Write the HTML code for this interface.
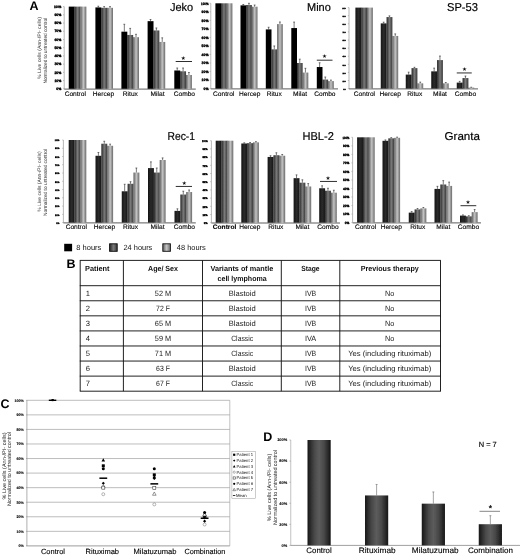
<!DOCTYPE html>
<html lang="en">
<head>
<meta charset="utf-8">
<title>Figure</title>
<style>
html,body{margin:0;padding:0;background:#fff;}
body{width:520px;height:557px;overflow:hidden;}
svg{display:block;font-family:"Liberation Sans", Arial, sans-serif;}
</style>
</head>
<body>
<svg width="520" height="557" viewBox="0 0 520 557" text-rendering="geometricPrecision">
<defs>
<filter id="soft" x="0" y="0" width="100%" height="100%" filterUnits="userSpaceOnUse"><feGaussianBlur stdDeviation="0.32"/></filter>
<linearGradient id="g0" x1="0" x2="1" y1="0" y2="0"><stop offset="0" stop-color="#000"/><stop offset="0.5" stop-color="#060606"/><stop offset="1" stop-color="#000"/></linearGradient>
<linearGradient id="g0b" x1="0" x2="1" y1="0" y2="0"><stop offset="0" stop-color="#141414"/><stop offset="0.5" stop-color="#2b2b2b"/><stop offset="1" stop-color="#161616"/></linearGradient>
<linearGradient id="g1" x1="0" x2="1" y1="0" y2="0"><stop offset="0" stop-color="#262626"/><stop offset="0.5" stop-color="#7a7a7a"/><stop offset="1" stop-color="#3a3a3a"/></linearGradient>
<linearGradient id="g2" x1="0" x2="1" y1="0" y2="0"><stop offset="0" stop-color="#5e5e5e"/><stop offset="0.5" stop-color="#c4c4c4"/><stop offset="1" stop-color="#6a6a6a"/></linearGradient>
<linearGradient id="gd" x1="0" x2="1" y1="0" y2="0"><stop offset="0" stop-color="#161616"/><stop offset="0.3" stop-color="#4a4a4a"/><stop offset="0.5" stop-color="#5c5c5c"/><stop offset="0.7" stop-color="#4a4a4a"/><stop offset="1" stop-color="#161616"/></linearGradient>
</defs>
<rect width="520" height="557" fill="#fff"/>
<g filter="url(#soft)">
<rect width="520" height="557" fill="#fff"/>

<text x="29.50" y="10.20" font-size="12.5" text-anchor="start" font-weight="bold">A</text>
<text x="66.50" y="268.30" font-size="12.5" text-anchor="start" font-weight="bold">B</text>
<text x="0.50" y="408.20" font-size="12.5" text-anchor="start" font-weight="bold">C</text>
<text x="263.30" y="441.40" font-size="12.5" text-anchor="start" font-weight="bold">D</text>
<text x="61.40" y="90.00" font-size="3.5" text-anchor="end" font-weight="bold" textLength="5.04" lengthAdjust="spacingAndGlyphs" stroke="#000" stroke-width="0.32">0%</text>
<line x1="63.00" y1="88.80" x2="64.20" y2="88.80" stroke="#888" stroke-width="0.5"/>
<text x="61.40" y="81.78" font-size="3.5" text-anchor="end" font-weight="bold" textLength="7.00" lengthAdjust="spacingAndGlyphs" stroke="#000" stroke-width="0.32">10%</text>
<line x1="63.00" y1="80.58" x2="64.20" y2="80.58" stroke="#888" stroke-width="0.5"/>
<text x="61.40" y="73.56" font-size="3.5" text-anchor="end" font-weight="bold" textLength="7.00" lengthAdjust="spacingAndGlyphs" stroke="#000" stroke-width="0.32">20%</text>
<line x1="63.00" y1="72.36" x2="64.20" y2="72.36" stroke="#888" stroke-width="0.5"/>
<text x="61.40" y="65.34" font-size="3.5" text-anchor="end" font-weight="bold" textLength="7.00" lengthAdjust="spacingAndGlyphs" stroke="#000" stroke-width="0.32">30%</text>
<line x1="63.00" y1="64.14" x2="64.20" y2="64.14" stroke="#888" stroke-width="0.5"/>
<text x="61.40" y="57.12" font-size="3.5" text-anchor="end" font-weight="bold" textLength="7.00" lengthAdjust="spacingAndGlyphs" stroke="#000" stroke-width="0.32">40%</text>
<line x1="63.00" y1="55.92" x2="64.20" y2="55.92" stroke="#888" stroke-width="0.5"/>
<text x="61.40" y="48.90" font-size="3.5" text-anchor="end" font-weight="bold" textLength="7.00" lengthAdjust="spacingAndGlyphs" stroke="#000" stroke-width="0.32">50%</text>
<line x1="63.00" y1="47.70" x2="64.20" y2="47.70" stroke="#888" stroke-width="0.5"/>
<text x="61.40" y="40.68" font-size="3.5" text-anchor="end" font-weight="bold" textLength="7.00" lengthAdjust="spacingAndGlyphs" stroke="#000" stroke-width="0.32">60%</text>
<line x1="63.00" y1="39.48" x2="64.20" y2="39.48" stroke="#888" stroke-width="0.5"/>
<text x="61.40" y="32.46" font-size="3.5" text-anchor="end" font-weight="bold" textLength="7.00" lengthAdjust="spacingAndGlyphs" stroke="#000" stroke-width="0.32">70%</text>
<line x1="63.00" y1="31.26" x2="64.20" y2="31.26" stroke="#888" stroke-width="0.5"/>
<text x="61.40" y="24.24" font-size="3.5" text-anchor="end" font-weight="bold" textLength="7.00" lengthAdjust="spacingAndGlyphs" stroke="#000" stroke-width="0.32">80%</text>
<line x1="63.00" y1="23.04" x2="64.20" y2="23.04" stroke="#888" stroke-width="0.5"/>
<text x="61.40" y="16.02" font-size="3.5" text-anchor="end" font-weight="bold" textLength="7.00" lengthAdjust="spacingAndGlyphs" stroke="#000" stroke-width="0.32">90%</text>
<line x1="63.00" y1="14.82" x2="64.20" y2="14.82" stroke="#888" stroke-width="0.5"/>
<text x="61.40" y="7.80" font-size="3.5" text-anchor="end" font-weight="bold" textLength="7.42" lengthAdjust="spacingAndGlyphs" stroke="#000" stroke-width="0.32">100%</text>
<line x1="63.00" y1="6.60" x2="64.20" y2="6.60" stroke="#888" stroke-width="0.5"/>
<line x1="64.20" y1="6.60" x2="64.20" y2="88.80" stroke="#999" stroke-width="0.7"/>
<line x1="64.20" y1="89.10" x2="195.80" y2="89.10" stroke="#333" stroke-width="0.8"/>
<rect x="68.75" y="6.60" width="5.90" height="82.20" fill="url(#g0)"/>
<rect x="74.60" y="6.60" width="5.90" height="82.20" fill="url(#g1)"/>
<rect x="80.45" y="6.60" width="5.90" height="82.20" fill="url(#g2)"/>
<text x="75.28" y="96.40" font-size="6.6" text-anchor="middle" stroke="#000" stroke-width="0.12">Control</text>
<rect x="95.40" y="7.42" width="5.90" height="81.38" fill="url(#g0)"/>
<path d="M98.33 7.42V6.19M97.42 6.19h1.8" stroke="#222" stroke-width="0.6" fill="none"/>
<rect x="101.25" y="7.83" width="5.90" height="80.97" fill="url(#g1)"/>
<path d="M104.17 7.83V6.60M103.27 6.60h1.8" stroke="#222" stroke-width="0.6" fill="none"/>
<rect x="107.10" y="7.83" width="5.90" height="80.97" fill="url(#g2)"/>
<path d="M110.03 7.83V6.60M109.12 6.60h1.8" stroke="#222" stroke-width="0.6" fill="none"/>
<text x="103.48" y="96.40" font-size="6.6" text-anchor="middle" stroke="#000" stroke-width="0.12">Hercep</text>
<rect x="121.40" y="31.67" width="5.90" height="57.13" fill="url(#g0)"/>
<path d="M124.33 31.67V24.27M123.42 24.27h1.8" stroke="#222" stroke-width="0.6" fill="none"/>
<rect x="127.25" y="34.96" width="5.90" height="53.84" fill="url(#g1)"/>
<path d="M130.18 34.96V28.38M129.28 28.38h1.8" stroke="#222" stroke-width="0.6" fill="none"/>
<rect x="133.10" y="37.18" width="5.90" height="51.62" fill="url(#g2)"/>
<path d="M136.03 37.18V34.30M135.12 34.30h1.8" stroke="#222" stroke-width="0.6" fill="none"/>
<text x="130.38" y="96.40" font-size="6.6" text-anchor="middle" stroke="#000" stroke-width="0.12">Ritux</text>
<rect x="147.60" y="21.15" width="5.90" height="67.65" fill="url(#g0)"/>
<path d="M150.53 21.15V19.51M149.62 19.51h1.8" stroke="#222" stroke-width="0.6" fill="none"/>
<rect x="153.45" y="30.44" width="5.90" height="58.36" fill="url(#g1)"/>
<path d="M156.38 30.44V27.97M155.47 27.97h1.8" stroke="#222" stroke-width="0.6" fill="none"/>
<rect x="159.30" y="41.95" width="5.90" height="46.85" fill="url(#g2)"/>
<path d="M162.22 41.95V37.84M161.32 37.84h1.8" stroke="#222" stroke-width="0.6" fill="none"/>
<text x="157.57" y="96.40" font-size="6.6" text-anchor="middle" stroke="#000" stroke-width="0.12">Milat</text>
<rect x="174.30" y="70.47" width="5.90" height="18.33" fill="url(#g0)"/>
<path d="M177.23 70.47V68.00M176.33 68.00h1.8" stroke="#222" stroke-width="0.6" fill="none"/>
<rect x="180.15" y="71.29" width="5.90" height="17.51" fill="url(#g1)"/>
<path d="M183.08 71.29V68.00M182.18 68.00h1.8" stroke="#222" stroke-width="0.6" fill="none"/>
<rect x="186.00" y="74.99" width="5.90" height="13.81" fill="url(#g2)"/>
<path d="M188.93 74.99V72.52M188.03 72.52h1.8" stroke="#222" stroke-width="0.6" fill="none"/>
<text x="184.38" y="96.40" font-size="6.6" text-anchor="middle" stroke="#000" stroke-width="0.12">Combo</text>
<text x="170.00" y="11.00" font-size="11.4" text-anchor="start" textLength="23.20" lengthAdjust="spacingAndGlyphs" stroke="#000" stroke-width="0.18">Jeko</text>
<line x1="175.70" y1="61.50" x2="192.00" y2="61.50" stroke="#0a0a0a" stroke-width="0.85"/>
<text x="183.30" y="59.60" font-size="5.6" text-anchor="middle" fill="#111" font-family="DejaVu Sans, sans-serif">★</text>
<text transform="translate(41.00 48.00) rotate(-90)" font-size="5.0" text-anchor="middle" fill="#333" textLength="62.00" lengthAdjust="spacingAndGlyphs">% Live cells (Ann-/PI- cells)</text>
<text transform="translate(47.40 50.70) rotate(-90)" font-size="5.0" text-anchor="middle" fill="#333" textLength="65.50" lengthAdjust="spacingAndGlyphs">Normalized to untreated control</text>
<text x="208.50" y="89.80" font-size="3.5" text-anchor="end" font-weight="bold" textLength="5.04" lengthAdjust="spacingAndGlyphs" stroke="#000" stroke-width="0.32">0%</text>
<line x1="209.60" y1="88.60" x2="210.80" y2="88.60" stroke="#888" stroke-width="0.5"/>
<text x="208.50" y="81.27" font-size="3.5" text-anchor="end" font-weight="bold" textLength="7.00" lengthAdjust="spacingAndGlyphs" stroke="#000" stroke-width="0.32">10%</text>
<line x1="209.60" y1="80.07" x2="210.80" y2="80.07" stroke="#888" stroke-width="0.5"/>
<text x="208.50" y="72.74" font-size="3.5" text-anchor="end" font-weight="bold" textLength="7.00" lengthAdjust="spacingAndGlyphs" stroke="#000" stroke-width="0.32">20%</text>
<line x1="209.60" y1="71.54" x2="210.80" y2="71.54" stroke="#888" stroke-width="0.5"/>
<text x="208.50" y="64.21" font-size="3.5" text-anchor="end" font-weight="bold" textLength="7.00" lengthAdjust="spacingAndGlyphs" stroke="#000" stroke-width="0.32">30%</text>
<line x1="209.60" y1="63.01" x2="210.80" y2="63.01" stroke="#888" stroke-width="0.5"/>
<text x="208.50" y="55.68" font-size="3.5" text-anchor="end" font-weight="bold" textLength="7.00" lengthAdjust="spacingAndGlyphs" stroke="#000" stroke-width="0.32">40%</text>
<line x1="209.60" y1="54.48" x2="210.80" y2="54.48" stroke="#888" stroke-width="0.5"/>
<text x="208.50" y="47.15" font-size="3.5" text-anchor="end" font-weight="bold" textLength="7.00" lengthAdjust="spacingAndGlyphs" stroke="#000" stroke-width="0.32">50%</text>
<line x1="209.60" y1="45.95" x2="210.80" y2="45.95" stroke="#888" stroke-width="0.5"/>
<text x="208.50" y="38.62" font-size="3.5" text-anchor="end" font-weight="bold" textLength="7.00" lengthAdjust="spacingAndGlyphs" stroke="#000" stroke-width="0.32">60%</text>
<line x1="209.60" y1="37.42" x2="210.80" y2="37.42" stroke="#888" stroke-width="0.5"/>
<text x="208.50" y="30.09" font-size="3.5" text-anchor="end" font-weight="bold" textLength="7.00" lengthAdjust="spacingAndGlyphs" stroke="#000" stroke-width="0.32">70%</text>
<line x1="209.60" y1="28.89" x2="210.80" y2="28.89" stroke="#888" stroke-width="0.5"/>
<text x="208.50" y="21.56" font-size="3.5" text-anchor="end" font-weight="bold" textLength="7.00" lengthAdjust="spacingAndGlyphs" stroke="#000" stroke-width="0.32">80%</text>
<line x1="209.60" y1="20.36" x2="210.80" y2="20.36" stroke="#888" stroke-width="0.5"/>
<text x="208.50" y="13.03" font-size="3.5" text-anchor="end" font-weight="bold" textLength="7.00" lengthAdjust="spacingAndGlyphs" stroke="#000" stroke-width="0.32">90%</text>
<line x1="209.60" y1="11.83" x2="210.80" y2="11.83" stroke="#888" stroke-width="0.5"/>
<text x="208.50" y="4.50" font-size="3.5" text-anchor="end" font-weight="bold" textLength="7.42" lengthAdjust="spacingAndGlyphs" stroke="#000" stroke-width="0.32">100%</text>
<line x1="209.60" y1="3.30" x2="210.80" y2="3.30" stroke="#888" stroke-width="0.5"/>
<line x1="210.80" y1="3.30" x2="210.80" y2="88.60" stroke="#999" stroke-width="0.7"/>
<line x1="210.80" y1="88.90" x2="338.00" y2="88.90" stroke="#333" stroke-width="0.8"/>
<rect x="215.40" y="3.30" width="5.70" height="85.30" fill="url(#g0)"/>
<rect x="221.05" y="3.30" width="5.70" height="85.30" fill="url(#g1)"/>
<rect x="226.70" y="3.30" width="5.70" height="85.30" fill="url(#g2)"/>
<text x="223.72" y="96.20" font-size="6.6" text-anchor="middle" stroke="#000" stroke-width="0.12">Control</text>
<rect x="240.50" y="5.35" width="5.70" height="83.25" fill="url(#g0)"/>
<path d="M243.32 5.35V4.49M242.42 4.49h1.8" stroke="#222" stroke-width="0.6" fill="none"/>
<rect x="246.15" y="5.01" width="5.70" height="83.59" fill="url(#g1)"/>
<path d="M248.97 5.01V3.30M248.07 3.30h1.8" stroke="#222" stroke-width="0.6" fill="none"/>
<rect x="251.80" y="6.71" width="5.70" height="81.89" fill="url(#g2)"/>
<path d="M254.62 6.71V5.01M253.72 5.01h1.8" stroke="#222" stroke-width="0.6" fill="none"/>
<text x="249.72" y="96.20" font-size="6.6" text-anchor="middle" stroke="#000" stroke-width="0.12">Hercep</text>
<rect x="265.80" y="29.40" width="5.70" height="59.20" fill="url(#g0)"/>
<path d="M268.62 29.40V27.27M267.73 27.27h1.8" stroke="#222" stroke-width="0.6" fill="none"/>
<rect x="271.45" y="49.36" width="5.70" height="39.24" fill="url(#g1)"/>
<path d="M274.27 49.36V45.95M273.38 45.95h1.8" stroke="#222" stroke-width="0.6" fill="none"/>
<rect x="277.10" y="24.11" width="5.70" height="64.49" fill="url(#g2)"/>
<path d="M279.93 24.11V21.98M279.03 21.98h1.8" stroke="#222" stroke-width="0.6" fill="none"/>
<text x="274.28" y="96.20" font-size="6.6" text-anchor="middle" stroke="#000" stroke-width="0.12">Ritux</text>
<rect x="291.30" y="28.04" width="5.70" height="60.56" fill="url(#g0)"/>
<path d="M294.12 28.04V22.07M293.23 22.07h1.8" stroke="#222" stroke-width="0.6" fill="none"/>
<rect x="296.95" y="63.01" width="5.70" height="25.59" fill="url(#g1)"/>
<path d="M299.77 63.01V59.17M298.88 59.17h1.8" stroke="#222" stroke-width="0.6" fill="none"/>
<rect x="302.60" y="72.56" width="5.70" height="16.04" fill="url(#g2)"/>
<path d="M305.43 72.56V68.30M304.53 68.30h1.8" stroke="#222" stroke-width="0.6" fill="none"/>
<text x="300.08" y="96.20" font-size="6.6" text-anchor="middle" stroke="#000" stroke-width="0.12">Milat</text>
<rect x="316.80" y="67.02" width="5.70" height="21.58" fill="url(#g0)"/>
<path d="M319.62 67.02V62.75M318.73 62.75h1.8" stroke="#222" stroke-width="0.6" fill="none"/>
<rect x="322.45" y="79.56" width="5.70" height="9.04" fill="url(#g1)"/>
<path d="M325.27 79.56V77.00M324.38 77.00h1.8" stroke="#222" stroke-width="0.6" fill="none"/>
<rect x="328.10" y="81.09" width="5.70" height="7.51" fill="url(#g2)"/>
<path d="M330.93 81.09V80.07M330.03 80.07h1.8" stroke="#222" stroke-width="0.6" fill="none"/>
<text x="324.88" y="96.20" font-size="6.6" text-anchor="middle" stroke="#000" stroke-width="0.12">Combo</text>
<text x="307.00" y="11.00" font-size="11.4" text-anchor="start" textLength="23.80" lengthAdjust="spacingAndGlyphs" stroke="#000" stroke-width="0.18">Mino</text>
<line x1="316.80" y1="60.20" x2="332.50" y2="60.20" stroke="#0a0a0a" stroke-width="0.85"/>
<text x="324.50" y="58.10" font-size="5.6" text-anchor="middle" fill="#111" font-family="DejaVu Sans, sans-serif">★</text>
<text x="345.80" y="89.80" font-size="1.7" text-anchor="end" font-weight="bold" textLength="2.45" lengthAdjust="spacingAndGlyphs" stroke="#000" stroke-width="0.32">0%</text>
<line x1="347.80" y1="88.60" x2="349.00" y2="88.60" stroke="#888" stroke-width="0.5"/>
<text x="345.80" y="81.70" font-size="1.7" text-anchor="end" font-weight="bold" textLength="3.40" lengthAdjust="spacingAndGlyphs" stroke="#000" stroke-width="0.32">10%</text>
<line x1="347.80" y1="80.50" x2="349.00" y2="80.50" stroke="#888" stroke-width="0.5"/>
<text x="345.80" y="73.60" font-size="1.7" text-anchor="end" font-weight="bold" textLength="3.40" lengthAdjust="spacingAndGlyphs" stroke="#000" stroke-width="0.32">20%</text>
<line x1="347.80" y1="72.40" x2="349.00" y2="72.40" stroke="#888" stroke-width="0.5"/>
<text x="345.80" y="65.50" font-size="1.7" text-anchor="end" font-weight="bold" textLength="3.40" lengthAdjust="spacingAndGlyphs" stroke="#000" stroke-width="0.32">30%</text>
<line x1="347.80" y1="64.30" x2="349.00" y2="64.30" stroke="#888" stroke-width="0.5"/>
<text x="345.80" y="57.40" font-size="1.7" text-anchor="end" font-weight="bold" textLength="3.40" lengthAdjust="spacingAndGlyphs" stroke="#000" stroke-width="0.32">40%</text>
<line x1="347.80" y1="56.20" x2="349.00" y2="56.20" stroke="#888" stroke-width="0.5"/>
<text x="345.80" y="49.30" font-size="1.7" text-anchor="end" font-weight="bold" textLength="3.40" lengthAdjust="spacingAndGlyphs" stroke="#000" stroke-width="0.32">50%</text>
<line x1="347.80" y1="48.10" x2="349.00" y2="48.10" stroke="#888" stroke-width="0.5"/>
<text x="345.80" y="41.20" font-size="1.7" text-anchor="end" font-weight="bold" textLength="3.40" lengthAdjust="spacingAndGlyphs" stroke="#000" stroke-width="0.32">60%</text>
<line x1="347.80" y1="40.00" x2="349.00" y2="40.00" stroke="#888" stroke-width="0.5"/>
<text x="345.80" y="33.10" font-size="1.7" text-anchor="end" font-weight="bold" textLength="3.40" lengthAdjust="spacingAndGlyphs" stroke="#000" stroke-width="0.32">70%</text>
<line x1="347.80" y1="31.90" x2="349.00" y2="31.90" stroke="#888" stroke-width="0.5"/>
<text x="345.80" y="25.00" font-size="1.7" text-anchor="end" font-weight="bold" textLength="3.40" lengthAdjust="spacingAndGlyphs" stroke="#000" stroke-width="0.32">80%</text>
<line x1="347.80" y1="23.80" x2="349.00" y2="23.80" stroke="#888" stroke-width="0.5"/>
<text x="345.80" y="16.90" font-size="1.7" text-anchor="end" font-weight="bold" textLength="3.40" lengthAdjust="spacingAndGlyphs" stroke="#000" stroke-width="0.32">90%</text>
<line x1="347.80" y1="15.70" x2="349.00" y2="15.70" stroke="#888" stroke-width="0.5"/>
<text x="345.80" y="8.80" font-size="1.7" text-anchor="end" font-weight="bold" textLength="3.60" lengthAdjust="spacingAndGlyphs" stroke="#000" stroke-width="0.32">100%</text>
<line x1="347.80" y1="7.60" x2="349.00" y2="7.60" stroke="#888" stroke-width="0.5"/>
<line x1="349.00" y1="7.60" x2="349.00" y2="88.60" stroke="#999" stroke-width="0.7"/>
<line x1="349.00" y1="88.90" x2="478.00" y2="88.90" stroke="#333" stroke-width="0.8"/>
<rect x="355.40" y="7.60" width="5.85" height="81.00" fill="url(#g0b)"/>
<rect x="361.20" y="7.60" width="5.85" height="81.00" fill="url(#g1)"/>
<rect x="367.00" y="7.60" width="5.85" height="81.00" fill="url(#g2)"/>
<text x="364.45" y="96.20" font-size="6.6" text-anchor="middle" stroke="#000" stroke-width="0.12">Control</text>
<rect x="380.75" y="23.39" width="5.85" height="65.20" fill="url(#g0b)"/>
<path d="M383.65 23.39V22.18M382.75 22.18h1.8" stroke="#222" stroke-width="0.6" fill="none"/>
<rect x="386.55" y="17.08" width="5.85" height="71.52" fill="url(#g1)"/>
<path d="M389.45 17.08V15.86M388.55 15.86h1.8" stroke="#222" stroke-width="0.6" fill="none"/>
<rect x="392.35" y="35.95" width="5.85" height="52.65" fill="url(#g2)"/>
<path d="M395.25 35.95V33.92M394.35 33.92h1.8" stroke="#222" stroke-width="0.6" fill="none"/>
<text x="390.25" y="96.20" font-size="6.6" text-anchor="middle" stroke="#000" stroke-width="0.12">Hercep</text>
<rect x="405.75" y="74.59" width="5.85" height="14.01" fill="url(#g0b)"/>
<path d="M408.65 74.59V72.16M407.75 72.16h1.8" stroke="#222" stroke-width="0.6" fill="none"/>
<rect x="411.55" y="68.11" width="5.85" height="20.49" fill="url(#g1)"/>
<path d="M414.45 68.11V67.30M413.55 67.30h1.8" stroke="#222" stroke-width="0.6" fill="none"/>
<rect x="417.35" y="83.33" width="5.85" height="5.26" fill="url(#g2)"/>
<path d="M420.25 83.33V82.12M419.35 82.12h1.8" stroke="#222" stroke-width="0.6" fill="none"/>
<text x="414.75" y="96.20" font-size="6.6" text-anchor="middle" stroke="#000" stroke-width="0.12">Ritux</text>
<rect x="431.25" y="71.35" width="5.85" height="17.25" fill="url(#g0b)"/>
<path d="M434.15 71.35V68.11M433.25 68.11h1.8" stroke="#222" stroke-width="0.6" fill="none"/>
<rect x="437.05" y="60.09" width="5.85" height="28.51" fill="url(#g1)"/>
<path d="M439.95 60.09V56.04M439.05 56.04h1.8" stroke="#222" stroke-width="0.6" fill="none"/>
<rect x="442.85" y="83.33" width="5.85" height="5.26" fill="url(#g2)"/>
<path d="M445.75 83.33V82.52M444.85 82.52h1.8" stroke="#222" stroke-width="0.6" fill="none"/>
<text x="439.95" y="96.20" font-size="6.6" text-anchor="middle" stroke="#000" stroke-width="0.12">Milat</text>
<rect x="456.75" y="82.61" width="5.85" height="5.99" fill="url(#g0b)"/>
<path d="M459.65 82.61V81.39M458.75 81.39h1.8" stroke="#222" stroke-width="0.6" fill="none"/>
<rect x="462.55" y="78.07" width="5.85" height="10.53" fill="url(#g1)"/>
<path d="M465.45 78.07V76.04M464.55 76.04h1.8" stroke="#222" stroke-width="0.6" fill="none"/>
<rect x="468.35" y="87.63" width="5.85" height="0.97" fill="url(#g2)"/>
<path d="M471.25 87.63V87.22M470.35 87.22h1.8" stroke="#222" stroke-width="0.6" fill="none"/>
<text x="465.45" y="96.20" font-size="6.6" text-anchor="middle" stroke="#000" stroke-width="0.12">Combo</text>
<text x="447.00" y="11.00" font-size="11.4" text-anchor="start" textLength="31.00" lengthAdjust="spacingAndGlyphs" stroke="#000" stroke-width="0.18">SP-53</text>
<line x1="456.75" y1="72.95" x2="471.75" y2="72.95" stroke="#0a0a0a" stroke-width="0.85"/>
<text x="464.50" y="70.60" font-size="5.6" text-anchor="middle" fill="#111" font-family="DejaVu Sans, sans-serif">★</text>
<text x="59.40" y="223.80" font-size="2.15" text-anchor="end" font-weight="bold" textLength="3.10" lengthAdjust="spacingAndGlyphs" stroke="#000" stroke-width="0.32">0%</text>
<line x1="62.20" y1="222.60" x2="63.40" y2="222.60" stroke="#888" stroke-width="0.5"/>
<text x="59.40" y="215.54" font-size="2.15" text-anchor="end" font-weight="bold" textLength="4.30" lengthAdjust="spacingAndGlyphs" stroke="#000" stroke-width="0.32">10%</text>
<line x1="62.20" y1="214.34" x2="63.40" y2="214.34" stroke="#888" stroke-width="0.5"/>
<text x="59.40" y="207.28" font-size="2.15" text-anchor="end" font-weight="bold" textLength="4.30" lengthAdjust="spacingAndGlyphs" stroke="#000" stroke-width="0.32">20%</text>
<line x1="62.20" y1="206.08" x2="63.40" y2="206.08" stroke="#888" stroke-width="0.5"/>
<text x="59.40" y="199.02" font-size="2.15" text-anchor="end" font-weight="bold" textLength="4.30" lengthAdjust="spacingAndGlyphs" stroke="#000" stroke-width="0.32">30%</text>
<line x1="62.20" y1="197.82" x2="63.40" y2="197.82" stroke="#888" stroke-width="0.5"/>
<text x="59.40" y="190.76" font-size="2.15" text-anchor="end" font-weight="bold" textLength="4.30" lengthAdjust="spacingAndGlyphs" stroke="#000" stroke-width="0.32">40%</text>
<line x1="62.20" y1="189.56" x2="63.40" y2="189.56" stroke="#888" stroke-width="0.5"/>
<text x="59.40" y="182.50" font-size="2.15" text-anchor="end" font-weight="bold" textLength="4.30" lengthAdjust="spacingAndGlyphs" stroke="#000" stroke-width="0.32">50%</text>
<line x1="62.20" y1="181.30" x2="63.40" y2="181.30" stroke="#888" stroke-width="0.5"/>
<text x="59.40" y="174.24" font-size="2.15" text-anchor="end" font-weight="bold" textLength="4.30" lengthAdjust="spacingAndGlyphs" stroke="#000" stroke-width="0.32">60%</text>
<line x1="62.20" y1="173.04" x2="63.40" y2="173.04" stroke="#888" stroke-width="0.5"/>
<text x="59.40" y="165.98" font-size="2.15" text-anchor="end" font-weight="bold" textLength="4.30" lengthAdjust="spacingAndGlyphs" stroke="#000" stroke-width="0.32">70%</text>
<line x1="62.20" y1="164.78" x2="63.40" y2="164.78" stroke="#888" stroke-width="0.5"/>
<text x="59.40" y="157.72" font-size="2.15" text-anchor="end" font-weight="bold" textLength="4.30" lengthAdjust="spacingAndGlyphs" stroke="#000" stroke-width="0.32">80%</text>
<line x1="62.20" y1="156.52" x2="63.40" y2="156.52" stroke="#888" stroke-width="0.5"/>
<text x="59.40" y="149.46" font-size="2.15" text-anchor="end" font-weight="bold" textLength="4.30" lengthAdjust="spacingAndGlyphs" stroke="#000" stroke-width="0.32">90%</text>
<line x1="62.20" y1="148.26" x2="63.40" y2="148.26" stroke="#888" stroke-width="0.5"/>
<text x="59.40" y="141.20" font-size="2.15" text-anchor="end" font-weight="bold" textLength="4.56" lengthAdjust="spacingAndGlyphs" stroke="#000" stroke-width="0.32">100%</text>
<line x1="62.20" y1="140.00" x2="63.40" y2="140.00" stroke="#888" stroke-width="0.5"/>
<line x1="63.40" y1="140.00" x2="63.40" y2="222.60" stroke="#999" stroke-width="0.7"/>
<line x1="63.40" y1="222.90" x2="195.80" y2="222.90" stroke="#333" stroke-width="0.8"/>
<rect x="68.70" y="140.00" width="5.90" height="82.60" fill="url(#g0b)"/>
<rect x="74.55" y="140.00" width="5.90" height="82.60" fill="url(#g1)"/>
<rect x="80.40" y="140.00" width="5.90" height="82.60" fill="url(#g2)"/>
<text x="76.27" y="229.00" font-size="6.6" text-anchor="middle" stroke="#000" stroke-width="0.12">Control</text>
<rect x="95.50" y="155.78" width="5.90" height="66.82" fill="url(#g0b)"/>
<path d="M98.42 155.78V152.47M97.52 152.47h1.8" stroke="#222" stroke-width="0.6" fill="none"/>
<rect x="101.35" y="143.72" width="5.90" height="78.88" fill="url(#g1)"/>
<path d="M104.27 143.72V141.24M103.37 141.24h1.8" stroke="#222" stroke-width="0.6" fill="none"/>
<rect x="107.20" y="145.78" width="5.90" height="76.82" fill="url(#g2)"/>
<path d="M110.12 145.78V144.13M109.22 144.13h1.8" stroke="#222" stroke-width="0.6" fill="none"/>
<text x="104.48" y="229.00" font-size="6.6" text-anchor="middle" stroke="#000" stroke-width="0.12">Hercep</text>
<rect x="121.75" y="191.29" width="5.90" height="31.31" fill="url(#g0b)"/>
<path d="M124.67 191.29V184.27M123.77 184.27h1.8" stroke="#222" stroke-width="0.6" fill="none"/>
<rect x="127.60" y="183.78" width="5.90" height="38.82" fill="url(#g1)"/>
<path d="M130.53 183.78V181.71M129.62 181.71h1.8" stroke="#222" stroke-width="0.6" fill="none"/>
<rect x="133.45" y="172.54" width="5.90" height="50.06" fill="url(#g2)"/>
<path d="M136.38 172.54V168.00M135.47 168.00h1.8" stroke="#222" stroke-width="0.6" fill="none"/>
<text x="130.53" y="229.00" font-size="6.6" text-anchor="middle" stroke="#000" stroke-width="0.12">Ritux</text>
<rect x="148.00" y="168.08" width="5.90" height="54.52" fill="url(#g0b)"/>
<path d="M150.93 168.08V161.89M150.03 161.89h1.8" stroke="#222" stroke-width="0.6" fill="none"/>
<rect x="153.85" y="172.54" width="5.90" height="50.06" fill="url(#g1)"/>
<path d="M156.78 172.54V168.00M155.88 168.00h1.8" stroke="#222" stroke-width="0.6" fill="none"/>
<rect x="159.70" y="159.99" width="5.90" height="62.61" fill="url(#g2)"/>
<path d="M162.62 159.99V157.92M161.72 157.92h1.8" stroke="#222" stroke-width="0.6" fill="none"/>
<text x="157.58" y="229.00" font-size="6.6" text-anchor="middle" stroke="#000" stroke-width="0.12">Milat</text>
<rect x="174.50" y="210.87" width="5.90" height="11.73" fill="url(#g0b)"/>
<path d="M177.43 210.87V208.81M176.53 208.81h1.8" stroke="#222" stroke-width="0.6" fill="none"/>
<rect x="180.35" y="194.52" width="5.90" height="28.08" fill="url(#g1)"/>
<path d="M183.28 194.52V191.21M182.38 191.21h1.8" stroke="#222" stroke-width="0.6" fill="none"/>
<rect x="186.20" y="192.04" width="5.90" height="30.56" fill="url(#g2)"/>
<path d="M189.12 192.04V189.97M188.22 189.97h1.8" stroke="#222" stroke-width="0.6" fill="none"/>
<text x="184.38" y="229.00" font-size="6.6" text-anchor="middle" stroke="#000" stroke-width="0.12">Combo</text>
<text x="167.50" y="139.80" font-size="11.4" text-anchor="start" textLength="27.50" lengthAdjust="spacingAndGlyphs" stroke="#000" stroke-width="0.18">Rec-1</text>
<line x1="175.75" y1="186.45" x2="192.00" y2="186.45" stroke="#0a0a0a" stroke-width="0.85"/>
<text x="184.25" y="184.60" font-size="5.6" text-anchor="middle" fill="#111" font-family="DejaVu Sans, sans-serif">★</text>
<text transform="translate(41.00 181.60) rotate(-90)" font-size="5.0" text-anchor="middle" fill="#333" textLength="60.50" lengthAdjust="spacingAndGlyphs">% Live cells (Ann-/PI- cells)</text>
<text transform="translate(47.40 182.50) rotate(-90)" font-size="5.0" text-anchor="middle" fill="#333" textLength="67.00" lengthAdjust="spacingAndGlyphs">Normalized to untreated control</text>
<text x="207.60" y="223.90" font-size="2.6" text-anchor="end" font-weight="bold" textLength="3.74" lengthAdjust="spacingAndGlyphs" stroke="#000" stroke-width="0.32">0%</text>
<line x1="210.20" y1="222.70" x2="211.40" y2="222.70" stroke="#888" stroke-width="0.5"/>
<text x="207.60" y="215.70" font-size="2.6" text-anchor="end" font-weight="bold" textLength="5.20" lengthAdjust="spacingAndGlyphs" stroke="#000" stroke-width="0.32">10%</text>
<line x1="210.20" y1="214.50" x2="211.40" y2="214.50" stroke="#888" stroke-width="0.5"/>
<text x="207.60" y="207.50" font-size="2.6" text-anchor="end" font-weight="bold" textLength="5.20" lengthAdjust="spacingAndGlyphs" stroke="#000" stroke-width="0.32">20%</text>
<line x1="210.20" y1="206.30" x2="211.40" y2="206.30" stroke="#888" stroke-width="0.5"/>
<text x="207.60" y="199.30" font-size="2.6" text-anchor="end" font-weight="bold" textLength="5.20" lengthAdjust="spacingAndGlyphs" stroke="#000" stroke-width="0.32">30%</text>
<line x1="210.20" y1="198.10" x2="211.40" y2="198.10" stroke="#888" stroke-width="0.5"/>
<text x="207.60" y="191.10" font-size="2.6" text-anchor="end" font-weight="bold" textLength="5.20" lengthAdjust="spacingAndGlyphs" stroke="#000" stroke-width="0.32">40%</text>
<line x1="210.20" y1="189.90" x2="211.40" y2="189.90" stroke="#888" stroke-width="0.5"/>
<text x="207.60" y="182.90" font-size="2.6" text-anchor="end" font-weight="bold" textLength="5.20" lengthAdjust="spacingAndGlyphs" stroke="#000" stroke-width="0.32">50%</text>
<line x1="210.20" y1="181.70" x2="211.40" y2="181.70" stroke="#888" stroke-width="0.5"/>
<text x="207.60" y="174.70" font-size="2.6" text-anchor="end" font-weight="bold" textLength="5.20" lengthAdjust="spacingAndGlyphs" stroke="#000" stroke-width="0.32">60%</text>
<line x1="210.20" y1="173.50" x2="211.40" y2="173.50" stroke="#888" stroke-width="0.5"/>
<text x="207.60" y="166.50" font-size="2.6" text-anchor="end" font-weight="bold" textLength="5.20" lengthAdjust="spacingAndGlyphs" stroke="#000" stroke-width="0.32">70%</text>
<line x1="210.20" y1="165.30" x2="211.40" y2="165.30" stroke="#888" stroke-width="0.5"/>
<text x="207.60" y="158.30" font-size="2.6" text-anchor="end" font-weight="bold" textLength="5.20" lengthAdjust="spacingAndGlyphs" stroke="#000" stroke-width="0.32">80%</text>
<line x1="210.20" y1="157.10" x2="211.40" y2="157.10" stroke="#888" stroke-width="0.5"/>
<text x="207.60" y="150.10" font-size="2.6" text-anchor="end" font-weight="bold" textLength="5.20" lengthAdjust="spacingAndGlyphs" stroke="#000" stroke-width="0.32">90%</text>
<line x1="210.20" y1="148.90" x2="211.40" y2="148.90" stroke="#888" stroke-width="0.5"/>
<text x="207.60" y="141.90" font-size="2.6" text-anchor="end" font-weight="bold" textLength="5.51" lengthAdjust="spacingAndGlyphs" stroke="#000" stroke-width="0.32">100%</text>
<line x1="210.20" y1="140.70" x2="211.40" y2="140.70" stroke="#888" stroke-width="0.5"/>
<line x1="211.40" y1="140.70" x2="211.40" y2="222.70" stroke="#999" stroke-width="0.7"/>
<line x1="211.40" y1="223.00" x2="340.00" y2="223.00" stroke="#333" stroke-width="0.8"/>
<rect x="215.70" y="140.70" width="5.90" height="82.00" fill="url(#g0b)"/>
<rect x="221.55" y="140.70" width="5.90" height="82.00" fill="url(#g1)"/>
<rect x="227.40" y="140.70" width="5.90" height="82.00" fill="url(#g2)"/>
<text x="224.57" y="229.00" font-size="6.6" text-anchor="middle" font-weight="bold" stroke="#000" stroke-width="0.12">Control</text>
<rect x="241.30" y="143.49" width="5.90" height="79.21" fill="url(#g0b)"/>
<path d="M244.23 143.49V142.83M243.33 142.83h1.8" stroke="#222" stroke-width="0.6" fill="none"/>
<rect x="247.15" y="143.16" width="5.90" height="79.54" fill="url(#g1)"/>
<path d="M250.08 143.16V142.50M249.18 142.50h1.8" stroke="#222" stroke-width="0.6" fill="none"/>
<rect x="253.00" y="142.34" width="5.90" height="80.36" fill="url(#g2)"/>
<path d="M255.93 142.34V141.68M255.03 141.68h1.8" stroke="#222" stroke-width="0.6" fill="none"/>
<text x="249.83" y="229.00" font-size="6.6" text-anchor="middle" stroke="#000" stroke-width="0.12">Hercep</text>
<rect x="267.60" y="156.94" width="5.90" height="65.76" fill="url(#g0b)"/>
<path d="M270.53 156.94V155.71M269.63 155.71h1.8" stroke="#222" stroke-width="0.6" fill="none"/>
<rect x="273.45" y="155.21" width="5.90" height="67.49" fill="url(#g1)"/>
<path d="M276.38 155.21V152.75M275.48 152.75h1.8" stroke="#222" stroke-width="0.6" fill="none"/>
<rect x="279.30" y="155.71" width="5.90" height="66.99" fill="url(#g2)"/>
<path d="M282.23 155.71V154.48M281.33 154.48h1.8" stroke="#222" stroke-width="0.6" fill="none"/>
<text x="275.88" y="229.00" font-size="6.6" text-anchor="middle" stroke="#000" stroke-width="0.12">Ritux</text>
<rect x="293.60" y="178.17" width="5.90" height="44.53" fill="url(#g0b)"/>
<path d="M296.53 178.17V174.89M295.63 174.89h1.8" stroke="#222" stroke-width="0.6" fill="none"/>
<rect x="299.45" y="182.68" width="5.90" height="40.02" fill="url(#g1)"/>
<path d="M302.38 182.68V179.81M301.48 179.81h1.8" stroke="#222" stroke-width="0.6" fill="none"/>
<rect x="305.30" y="186.46" width="5.90" height="36.24" fill="url(#g2)"/>
<path d="M308.23 186.46V183.59M307.33 183.59h1.8" stroke="#222" stroke-width="0.6" fill="none"/>
<text x="302.38" y="229.00" font-size="6.6" text-anchor="middle" stroke="#000" stroke-width="0.12">Milat</text>
<rect x="319.20" y="188.26" width="5.90" height="34.44" fill="url(#g0b)"/>
<path d="M322.12 188.26V185.80M321.23 185.80h1.8" stroke="#222" stroke-width="0.6" fill="none"/>
<rect x="325.05" y="190.72" width="5.90" height="31.98" fill="url(#g1)"/>
<path d="M327.98 190.72V188.26M327.08 188.26h1.8" stroke="#222" stroke-width="0.6" fill="none"/>
<rect x="330.90" y="192.69" width="5.90" height="30.01" fill="url(#g2)"/>
<path d="M333.82 192.69V190.23M332.93 190.23h1.8" stroke="#222" stroke-width="0.6" fill="none"/>
<text x="327.97" y="229.00" font-size="6.6" text-anchor="middle" stroke="#000" stroke-width="0.12">Combo</text>
<text x="302.50" y="139.80" font-size="11.4" text-anchor="start" textLength="31.30" lengthAdjust="spacingAndGlyphs" stroke="#000" stroke-width="0.18">HBL-2</text>
<line x1="320.00" y1="181.45" x2="337.00" y2="181.45" stroke="#0a0a0a" stroke-width="0.85"/>
<text x="328.00" y="180.10" font-size="5.6" text-anchor="middle" fill="#111" font-family="DejaVu Sans, sans-serif">★</text>
<text x="349.30" y="223.80" font-size="3.2" text-anchor="end" font-weight="bold" textLength="4.61" lengthAdjust="spacingAndGlyphs" stroke="#000" stroke-width="0.32">0%</text>
<line x1="351.40" y1="222.60" x2="352.60" y2="222.60" stroke="#888" stroke-width="0.5"/>
<text x="349.30" y="215.27" font-size="3.2" text-anchor="end" font-weight="bold" textLength="6.40" lengthAdjust="spacingAndGlyphs" stroke="#000" stroke-width="0.32">10%</text>
<line x1="351.40" y1="214.07" x2="352.60" y2="214.07" stroke="#888" stroke-width="0.5"/>
<text x="349.30" y="206.74" font-size="3.2" text-anchor="end" font-weight="bold" textLength="6.40" lengthAdjust="spacingAndGlyphs" stroke="#000" stroke-width="0.32">20%</text>
<line x1="351.40" y1="205.54" x2="352.60" y2="205.54" stroke="#888" stroke-width="0.5"/>
<text x="349.30" y="198.21" font-size="3.2" text-anchor="end" font-weight="bold" textLength="6.40" lengthAdjust="spacingAndGlyphs" stroke="#000" stroke-width="0.32">30%</text>
<line x1="351.40" y1="197.01" x2="352.60" y2="197.01" stroke="#888" stroke-width="0.5"/>
<text x="349.30" y="189.68" font-size="3.2" text-anchor="end" font-weight="bold" textLength="6.40" lengthAdjust="spacingAndGlyphs" stroke="#000" stroke-width="0.32">40%</text>
<line x1="351.40" y1="188.48" x2="352.60" y2="188.48" stroke="#888" stroke-width="0.5"/>
<text x="349.30" y="181.15" font-size="3.2" text-anchor="end" font-weight="bold" textLength="6.40" lengthAdjust="spacingAndGlyphs" stroke="#000" stroke-width="0.32">50%</text>
<line x1="351.40" y1="179.95" x2="352.60" y2="179.95" stroke="#888" stroke-width="0.5"/>
<text x="349.30" y="172.62" font-size="3.2" text-anchor="end" font-weight="bold" textLength="6.40" lengthAdjust="spacingAndGlyphs" stroke="#000" stroke-width="0.32">60%</text>
<line x1="351.40" y1="171.42" x2="352.60" y2="171.42" stroke="#888" stroke-width="0.5"/>
<text x="349.30" y="164.09" font-size="3.2" text-anchor="end" font-weight="bold" textLength="6.40" lengthAdjust="spacingAndGlyphs" stroke="#000" stroke-width="0.32">70%</text>
<line x1="351.40" y1="162.89" x2="352.60" y2="162.89" stroke="#888" stroke-width="0.5"/>
<text x="349.30" y="155.56" font-size="3.2" text-anchor="end" font-weight="bold" textLength="6.40" lengthAdjust="spacingAndGlyphs" stroke="#000" stroke-width="0.32">80%</text>
<line x1="351.40" y1="154.36" x2="352.60" y2="154.36" stroke="#888" stroke-width="0.5"/>
<text x="349.30" y="147.03" font-size="3.2" text-anchor="end" font-weight="bold" textLength="6.40" lengthAdjust="spacingAndGlyphs" stroke="#000" stroke-width="0.32">90%</text>
<line x1="351.40" y1="145.83" x2="352.60" y2="145.83" stroke="#888" stroke-width="0.5"/>
<text x="349.30" y="138.50" font-size="3.2" text-anchor="end" font-weight="bold" textLength="6.78" lengthAdjust="spacingAndGlyphs" stroke="#000" stroke-width="0.32">100%</text>
<line x1="351.40" y1="137.30" x2="352.60" y2="137.30" stroke="#888" stroke-width="0.5"/>
<line x1="352.60" y1="137.30" x2="352.60" y2="222.60" stroke="#999" stroke-width="0.7"/>
<line x1="352.60" y1="222.90" x2="481.00" y2="222.90" stroke="#333" stroke-width="0.8"/>
<rect x="357.10" y="137.30" width="5.90" height="85.30" fill="url(#g0b)"/>
<rect x="362.95" y="137.30" width="5.90" height="85.30" fill="url(#g1)"/>
<rect x="368.80" y="137.30" width="5.90" height="85.30" fill="url(#g2)"/>
<text x="365.57" y="229.00" font-size="6.6" text-anchor="middle" stroke="#000" stroke-width="0.12">Control</text>
<rect x="382.50" y="140.80" width="5.90" height="81.80" fill="url(#g0b)"/>
<path d="M385.43 140.80V139.94M384.53 139.94h1.8" stroke="#222" stroke-width="0.6" fill="none"/>
<rect x="388.35" y="138.32" width="5.90" height="84.28" fill="url(#g1)"/>
<path d="M391.28 138.32V137.64M390.38 137.64h1.8" stroke="#222" stroke-width="0.6" fill="none"/>
<rect x="394.20" y="137.81" width="5.90" height="84.79" fill="url(#g2)"/>
<path d="M397.12 137.81V137.13M396.23 137.13h1.8" stroke="#222" stroke-width="0.6" fill="none"/>
<text x="391.27" y="229.00" font-size="6.6" text-anchor="middle" stroke="#000" stroke-width="0.12">Hercep</text>
<rect x="408.75" y="212.62" width="5.90" height="9.98" fill="url(#g0b)"/>
<path d="M411.68 212.62V211.60M410.78 211.60h1.8" stroke="#222" stroke-width="0.6" fill="none"/>
<rect x="414.60" y="209.38" width="5.90" height="13.22" fill="url(#g1)"/>
<path d="M417.53 209.38V208.53M416.63 208.53h1.8" stroke="#222" stroke-width="0.6" fill="none"/>
<rect x="420.45" y="208.35" width="5.90" height="14.25" fill="url(#g2)"/>
<path d="M423.38 208.35V207.50M422.48 207.50h1.8" stroke="#222" stroke-width="0.6" fill="none"/>
<text x="417.72" y="229.00" font-size="6.6" text-anchor="middle" stroke="#000" stroke-width="0.12">Ritux</text>
<rect x="434.50" y="188.91" width="5.90" height="33.69" fill="url(#g0b)"/>
<path d="M437.43 188.91V186.35M436.53 186.35h1.8" stroke="#222" stroke-width="0.6" fill="none"/>
<rect x="440.35" y="184.47" width="5.90" height="38.13" fill="url(#g1)"/>
<path d="M443.28 184.47V180.63M442.38 180.63h1.8" stroke="#222" stroke-width="0.6" fill="none"/>
<rect x="446.20" y="185.92" width="5.90" height="36.68" fill="url(#g2)"/>
<path d="M449.12 185.92V182.08M448.23 182.08h1.8" stroke="#222" stroke-width="0.6" fill="none"/>
<text x="443.27" y="229.00" font-size="6.6" text-anchor="middle" stroke="#000" stroke-width="0.12">Milat</text>
<rect x="460.00" y="215.61" width="5.90" height="6.99" fill="url(#g0b)"/>
<path d="M462.93 215.61V214.92M462.03 214.92h1.8" stroke="#222" stroke-width="0.6" fill="none"/>
<rect x="465.85" y="216.37" width="5.90" height="6.23" fill="url(#g1)"/>
<path d="M468.78 216.37V215.69M467.88 215.69h1.8" stroke="#222" stroke-width="0.6" fill="none"/>
<rect x="471.70" y="212.11" width="5.90" height="10.49" fill="url(#g2)"/>
<path d="M474.62 212.11V209.55M473.73 209.55h1.8" stroke="#222" stroke-width="0.6" fill="none"/>
<text x="468.47" y="229.00" font-size="6.6" text-anchor="middle" stroke="#000" stroke-width="0.12">Combo</text>
<text x="444.50" y="139.80" font-size="11.4" text-anchor="start" textLength="35.50" lengthAdjust="spacingAndGlyphs" stroke="#000" stroke-width="0.18">Granta</text>
<line x1="460.50" y1="205.70" x2="476.25" y2="205.70" stroke="#0a0a0a" stroke-width="0.85"/>
<text x="468.00" y="203.85" font-size="5.6" text-anchor="middle" fill="#111" font-family="DejaVu Sans, sans-serif">★</text>
<rect x="64.2" y="243.8" width="7.9" height="7.5" fill="#000"/>
<text x="76.30" y="250.40" font-size="7.5" text-anchor="start" fill="#111" textLength="25.00" lengthAdjust="spacingAndGlyphs">8 hours</text>
<rect x="109.6" y="243.8" width="7.6" height="7.5" fill="url(#g1)" stroke="#0a0a0a" stroke-width="0.9"/>
<text x="123.50" y="250.40" font-size="7.5" text-anchor="start" fill="#111" textLength="28.80" lengthAdjust="spacingAndGlyphs">24 hours</text>
<rect x="162.8" y="243.8" width="7.6" height="7.5" fill="url(#g2)" stroke="#111" stroke-width="0.9"/>
<text x="176.80" y="250.40" font-size="7.5" text-anchor="start" fill="#111" textLength="29.00" lengthAdjust="spacingAndGlyphs">48 hours</text>
<line x1="79.8" y1="260.40" x2="440.9" y2="260.40" stroke="#161616" stroke-width="0.95"/>
<line x1="79.8" y1="285.70" x2="440.9" y2="285.70" stroke="#161616" stroke-width="0.95"/>
<line x1="79.8" y1="300.77" x2="440.9" y2="300.77" stroke="#161616" stroke-width="0.95"/>
<line x1="79.8" y1="315.84" x2="440.9" y2="315.84" stroke="#161616" stroke-width="0.95"/>
<line x1="79.8" y1="330.91" x2="440.9" y2="330.91" stroke="#161616" stroke-width="0.95"/>
<line x1="79.8" y1="345.98" x2="440.9" y2="345.98" stroke="#161616" stroke-width="0.95"/>
<line x1="79.8" y1="361.05" x2="440.9" y2="361.05" stroke="#161616" stroke-width="0.95"/>
<line x1="79.8" y1="376.12" x2="440.9" y2="376.12" stroke="#161616" stroke-width="0.95"/>
<line x1="79.8" y1="391.19" x2="440.9" y2="391.19" stroke="#161616" stroke-width="0.95"/>
<line x1="80.20" y1="260.40" x2="80.20" y2="391.19" stroke="#161616" stroke-width="0.95"/>
<line x1="123.40" y1="260.40" x2="123.40" y2="391.19" stroke="#161616" stroke-width="0.95"/>
<line x1="202.50" y1="260.40" x2="202.50" y2="391.19" stroke="#161616" stroke-width="0.95"/>
<line x1="281.30" y1="260.40" x2="281.30" y2="391.19" stroke="#161616" stroke-width="0.95"/>
<line x1="339.80" y1="260.40" x2="339.80" y2="391.19" stroke="#161616" stroke-width="0.95"/>
<line x1="440.50" y1="260.40" x2="440.50" y2="391.19" stroke="#161616" stroke-width="0.95"/>
<text x="85.00" y="271.20" font-size="7.4" text-anchor="start" font-weight="bold" fill="#111" textLength="24.50" lengthAdjust="spacingAndGlyphs">Patient</text>
<text x="163.00" y="271.20" font-size="7.4" text-anchor="middle" font-weight="bold" fill="#111" textLength="30.00" lengthAdjust="spacingAndGlyphs">Age/ Sex</text>
<text x="241.90" y="271.40" font-size="7.4" text-anchor="middle" font-weight="bold" fill="#111" textLength="62.80" lengthAdjust="spacingAndGlyphs">Variants of mantle</text>
<text x="242.10" y="281.40" font-size="7.4" text-anchor="middle" font-weight="bold" fill="#111" textLength="49.20" lengthAdjust="spacingAndGlyphs">cell lymphoma</text>
<text x="310.40" y="271.20" font-size="7.4" text-anchor="middle" font-weight="bold" fill="#111" textLength="18.30" lengthAdjust="spacingAndGlyphs">Stage</text>
<text x="389.75" y="271.20" font-size="7.4" text-anchor="middle" font-weight="bold" fill="#111" textLength="58.00" lengthAdjust="spacingAndGlyphs">Previous therapy</text>
<text x="85.70" y="295.95" font-size="7.6" text-anchor="start" fill="#181818">1</text>
<text x="163.00" y="295.95" font-size="7.6" text-anchor="middle" fill="#181818" textLength="16.30" lengthAdjust="spacingAndGlyphs">52 M</text>
<text x="242.20" y="295.95" font-size="7.6" text-anchor="middle" fill="#181818" textLength="27.00" lengthAdjust="spacingAndGlyphs">Blastoid</text>
<text x="310.60" y="295.95" font-size="7.6" text-anchor="middle" fill="#181818" textLength="11.30" lengthAdjust="spacingAndGlyphs">IVB</text>
<text x="389.70" y="295.95" font-size="7.6" text-anchor="middle" fill="#181818" textLength="9.30" lengthAdjust="spacingAndGlyphs">No</text>
<text x="85.70" y="311.02" font-size="7.6" text-anchor="start" fill="#181818">2</text>
<text x="163.00" y="311.02" font-size="7.6" text-anchor="middle" fill="#181818" textLength="13.80" lengthAdjust="spacingAndGlyphs">72 F</text>
<text x="242.20" y="311.02" font-size="7.6" text-anchor="middle" fill="#181818" textLength="27.00" lengthAdjust="spacingAndGlyphs">Blastoid</text>
<text x="310.60" y="311.02" font-size="7.6" text-anchor="middle" fill="#181818" textLength="11.30" lengthAdjust="spacingAndGlyphs">IVB</text>
<text x="389.70" y="311.02" font-size="7.6" text-anchor="middle" fill="#181818" textLength="9.30" lengthAdjust="spacingAndGlyphs">No</text>
<text x="85.70" y="326.09" font-size="7.6" text-anchor="start" fill="#181818">3</text>
<text x="163.00" y="326.09" font-size="7.6" text-anchor="middle" fill="#181818" textLength="16.30" lengthAdjust="spacingAndGlyphs">65 M</text>
<text x="242.20" y="326.09" font-size="7.6" text-anchor="middle" fill="#181818" textLength="27.00" lengthAdjust="spacingAndGlyphs">Blastoid</text>
<text x="310.60" y="326.09" font-size="7.6" text-anchor="middle" fill="#181818" textLength="11.30" lengthAdjust="spacingAndGlyphs">IVB</text>
<text x="389.70" y="326.09" font-size="7.6" text-anchor="middle" fill="#181818" textLength="9.30" lengthAdjust="spacingAndGlyphs">No</text>
<text x="85.70" y="341.16" font-size="7.6" text-anchor="start" fill="#181818">4</text>
<text x="163.00" y="341.16" font-size="7.6" text-anchor="middle" fill="#181818" textLength="16.30" lengthAdjust="spacingAndGlyphs">59 M</text>
<text x="242.20" y="341.16" font-size="7.6" text-anchor="middle" fill="#181818" textLength="22.00" lengthAdjust="spacingAndGlyphs">Classic</text>
<text x="310.60" y="341.16" font-size="7.6" text-anchor="middle" fill="#181818" textLength="11.30" lengthAdjust="spacingAndGlyphs">IVA</text>
<text x="389.70" y="341.16" font-size="7.6" text-anchor="middle" fill="#181818" textLength="9.30" lengthAdjust="spacingAndGlyphs">No</text>
<text x="85.70" y="356.23" font-size="7.6" text-anchor="start" fill="#181818">5</text>
<text x="163.00" y="356.23" font-size="7.6" text-anchor="middle" fill="#181818" textLength="16.30" lengthAdjust="spacingAndGlyphs">71 M</text>
<text x="242.20" y="356.23" font-size="7.6" text-anchor="middle" fill="#181818" textLength="22.00" lengthAdjust="spacingAndGlyphs">Classic</text>
<text x="310.60" y="356.23" font-size="7.6" text-anchor="middle" fill="#181818" textLength="11.30" lengthAdjust="spacingAndGlyphs">IVB</text>
<text x="389.70" y="356.23" font-size="7.6" text-anchor="middle" fill="#181818" textLength="83.00" lengthAdjust="spacingAndGlyphs">Yes (including rituximab)</text>
<text x="85.70" y="371.30" font-size="7.6" text-anchor="start" fill="#181818">6</text>
<text x="163.00" y="371.30" font-size="7.6" text-anchor="middle" fill="#181818" textLength="13.80" lengthAdjust="spacingAndGlyphs">63 F</text>
<text x="242.20" y="371.30" font-size="7.6" text-anchor="middle" fill="#181818" textLength="27.00" lengthAdjust="spacingAndGlyphs">Blastoid</text>
<text x="310.60" y="371.30" font-size="7.6" text-anchor="middle" fill="#181818" textLength="11.30" lengthAdjust="spacingAndGlyphs">IVB</text>
<text x="389.70" y="371.30" font-size="7.6" text-anchor="middle" fill="#181818" textLength="83.00" lengthAdjust="spacingAndGlyphs">Yes (including rituximab)</text>
<text x="85.70" y="386.37" font-size="7.6" text-anchor="start" fill="#181818">7</text>
<text x="163.00" y="386.37" font-size="7.6" text-anchor="middle" fill="#181818" textLength="13.80" lengthAdjust="spacingAndGlyphs">67 F</text>
<text x="242.20" y="386.37" font-size="7.6" text-anchor="middle" fill="#181818" textLength="22.00" lengthAdjust="spacingAndGlyphs">Classic</text>
<text x="310.60" y="386.37" font-size="7.6" text-anchor="middle" fill="#181818" textLength="11.30" lengthAdjust="spacingAndGlyphs">IVB</text>
<text x="389.70" y="386.37" font-size="7.6" text-anchor="middle" fill="#181818" textLength="83.00" lengthAdjust="spacingAndGlyphs">Yes (including rituximab)</text>
<line x1="26.10" y1="545.90" x2="229.80" y2="545.90" stroke="#666" stroke-width="0.65"/>
<text x="23.90" y="547.25" font-size="3.7" text-anchor="end" font-weight="bold" stroke="#000" stroke-width="0.1">0%</text>
<line x1="26.10" y1="531.34" x2="229.80" y2="531.34" stroke="#999" stroke-width="0.65"/>
<text x="23.90" y="532.69" font-size="3.7" text-anchor="end" font-weight="bold" stroke="#000" stroke-width="0.1">10%</text>
<line x1="26.10" y1="516.78" x2="229.80" y2="516.78" stroke="#999" stroke-width="0.65"/>
<text x="23.90" y="518.13" font-size="3.7" text-anchor="end" font-weight="bold" stroke="#000" stroke-width="0.1">20%</text>
<line x1="26.10" y1="502.22" x2="229.80" y2="502.22" stroke="#999" stroke-width="0.65"/>
<text x="23.90" y="503.57" font-size="3.7" text-anchor="end" font-weight="bold" stroke="#000" stroke-width="0.1">30%</text>
<line x1="26.10" y1="487.66" x2="229.80" y2="487.66" stroke="#999" stroke-width="0.65"/>
<text x="23.90" y="489.01" font-size="3.7" text-anchor="end" font-weight="bold" stroke="#000" stroke-width="0.1">40%</text>
<line x1="26.10" y1="473.10" x2="229.80" y2="473.10" stroke="#999" stroke-width="0.65"/>
<text x="23.90" y="474.45" font-size="3.7" text-anchor="end" font-weight="bold" stroke="#000" stroke-width="0.1">50%</text>
<line x1="26.10" y1="458.54" x2="229.80" y2="458.54" stroke="#999" stroke-width="0.65"/>
<text x="23.90" y="459.89" font-size="3.7" text-anchor="end" font-weight="bold" stroke="#000" stroke-width="0.1">60%</text>
<line x1="26.10" y1="443.98" x2="229.80" y2="443.98" stroke="#999" stroke-width="0.65"/>
<text x="23.90" y="445.33" font-size="3.7" text-anchor="end" font-weight="bold" stroke="#000" stroke-width="0.1">70%</text>
<line x1="26.10" y1="429.42" x2="229.80" y2="429.42" stroke="#999" stroke-width="0.65"/>
<text x="23.90" y="430.77" font-size="3.7" text-anchor="end" font-weight="bold" stroke="#000" stroke-width="0.1">80%</text>
<line x1="26.10" y1="414.86" x2="229.80" y2="414.86" stroke="#999" stroke-width="0.65"/>
<text x="23.90" y="416.21" font-size="3.7" text-anchor="end" font-weight="bold" stroke="#000" stroke-width="0.1">90%</text>
<line x1="26.10" y1="400.30" x2="229.80" y2="400.30" stroke="#999" stroke-width="0.65"/>
<text x="23.90" y="401.65" font-size="3.7" text-anchor="end" font-weight="bold" stroke="#000" stroke-width="0.1">100%</text>
<line x1="26.90" y1="400.30" x2="26.90" y2="545.90" stroke="#777" stroke-width="0.6"/>
<line x1="229.80" y1="400.30" x2="229.80" y2="545.90" stroke="#999" stroke-width="0.6"/>
<rect x="51.60" y="399.10" width="2.00" height="2.00" fill="#000"/>
<path d="M52.60 399.05L53.65 400.10L52.60 401.15L51.55 400.10Z" fill="#000"/>
<path d="M52.60 398.90L53.80 401.10H51.40Z" fill="#000"/>
<circle cx="52.60" cy="400.10" r="1.00" fill="#000"/>
<rect x="48.8" y="399.60" width="7.5" height="1.4" fill="#000"/>
<circle cx="103.30" cy="494.21" r="1.50" fill="#fff" stroke="#777" stroke-width="0.55"/>
<path d="M103.30 484.70L105.10 488.00H101.50Z" fill="#fff" stroke="#444" stroke-width="0.55"/>
<rect x="101.80" y="486.16" width="3.00" height="3.00" fill="#fff" stroke="#333" stroke-width="0.55"/>
<path d="M103.30 481.72L104.88 483.29L103.30 484.87L101.72 483.29Z" fill="#000"/>
<circle cx="103.30" cy="468.73" r="1.50" fill="#000"/>
<rect x="101.80" y="464.32" width="3.00" height="3.00" fill="#000"/>
<path d="M103.30 458.20L105.10 461.50H101.50Z" fill="#000"/>
<rect x="99.40" y="477.45" width="7.8" height="1.5" fill="#000"/>
<circle cx="154.30" cy="504.40" r="1.50" fill="#fff" stroke="#777" stroke-width="0.55"/>
<path d="M154.30 491.98L156.10 495.28H152.50Z" fill="#fff" stroke="#444" stroke-width="0.55"/>
<rect x="152.80" y="486.60" width="3.00" height="3.00" fill="#fff" stroke="#333" stroke-width="0.55"/>
<path d="M154.30 476.91L155.88 478.49L154.30 480.06L152.73 478.49Z" fill="#000"/>
<path d="M154.30 474.94L156.10 478.24H152.50Z" fill="#000"/>
<rect x="152.80" y="473.35" width="3.00" height="3.00" fill="#000"/>
<circle cx="154.30" cy="468.73" r="1.50" fill="#000"/>
<rect x="150.40" y="483.12" width="7.8" height="1.5" fill="#000"/>
<circle cx="204.60" cy="524.50" r="1.50" fill="#fff" stroke="#777" stroke-width="0.55"/>
<rect x="203.10" y="515.28" width="3.00" height="3.00" fill="#fff" stroke="#333" stroke-width="0.55"/>
<rect x="203.10" y="514.55" width="3.00" height="3.00" fill="#000"/>
<path d="M204.60 515.71L206.40 519.01H202.80Z" fill="#000"/>
<path d="M204.60 512.65L206.40 515.95H202.80Z" fill="#fff" stroke="#444" stroke-width="0.55"/>
<circle cx="204.60" cy="512.41" r="1.50" fill="#000"/>
<path d="M204.60 519.57L206.17 521.15L204.60 522.72L203.03 521.15Z" fill="#000"/>
<rect x="200.70" y="517.49" width="7.8" height="1.5" fill="#000"/>
<text x="53.00" y="553.80" font-size="7.5" text-anchor="middle" textLength="24.00" lengthAdjust="spacingAndGlyphs" stroke="#000" stroke-width="0.12">Control</text>
<text x="102.30" y="553.80" font-size="7.5" text-anchor="middle" textLength="33.50" lengthAdjust="spacingAndGlyphs" stroke="#000" stroke-width="0.12">Rituximab</text>
<text x="155.00" y="553.80" font-size="7.5" text-anchor="middle" textLength="43.00" lengthAdjust="spacingAndGlyphs" stroke="#000" stroke-width="0.12">Milatuzumab</text>
<text x="204.90" y="553.80" font-size="7.5" text-anchor="middle" textLength="41.00" lengthAdjust="spacingAndGlyphs" stroke="#000" stroke-width="0.12">Combination</text>
<text transform="translate(5.60 466.00) rotate(-90)" font-size="5.3" text-anchor="middle" fill="#222" textLength="67.00" lengthAdjust="spacingAndGlyphs">% Live cells (Ann-/PI- cells)</text>
<text transform="translate(11.00 469.00) rotate(-90)" font-size="5.3" text-anchor="middle" fill="#222" textLength="74.00" lengthAdjust="spacingAndGlyphs">Normalized to untreated control</text>
<rect x="231.9" y="451.3" width="23.7" height="47.2" fill="#fff" stroke="#999" stroke-width="0.5"/>
<rect x="233.10" y="453.65" width="2.20" height="2.20" fill="#000"/>
<text x="236.50" y="456.25" font-size="4.3" text-anchor="start" fill="#111" textLength="16.60" lengthAdjust="spacingAndGlyphs">Patient 1</text>
<path d="M234.20 459.41L235.35 460.56L234.20 461.71L233.04 460.56Z" fill="#000"/>
<text x="236.50" y="462.06" font-size="4.3" text-anchor="start" fill="#111" textLength="16.60" lengthAdjust="spacingAndGlyphs">Patient 2</text>
<path d="M234.20 465.05L235.52 467.47H232.88Z" fill="#000"/>
<text x="236.50" y="467.87" font-size="4.3" text-anchor="start" fill="#111" textLength="16.60" lengthAdjust="spacingAndGlyphs">Patient 3</text>
<circle cx="234.20" cy="472.18" r="1.10" fill="#fff" stroke="#777" stroke-width="0.55"/>
<text x="236.50" y="473.68" font-size="4.3" text-anchor="start" fill="#111" textLength="16.60" lengthAdjust="spacingAndGlyphs">Patient 4</text>
<rect x="233.10" y="476.89" width="2.20" height="2.20" fill="#fff" stroke="#333" stroke-width="0.55"/>
<text x="236.50" y="479.49" font-size="4.3" text-anchor="start" fill="#111" textLength="16.60" lengthAdjust="spacingAndGlyphs">Patient 5</text>
<circle cx="234.20" cy="483.80" r="1.10" fill="#000"/>
<text x="236.50" y="485.30" font-size="4.3" text-anchor="start" fill="#111" textLength="16.60" lengthAdjust="spacingAndGlyphs">Patient 6</text>
<path d="M234.20 488.29L235.52 490.71H232.88Z" fill="#fff" stroke="#444" stroke-width="0.55"/>
<text x="236.50" y="491.11" font-size="4.3" text-anchor="start" fill="#111" textLength="16.60" lengthAdjust="spacingAndGlyphs">Patient 7</text>
<rect x="232.9" y="495.07" width="2.4" height="0.8" fill="#000"/>
<text x="236.00" y="496.92" font-size="4.3" text-anchor="start" fill="#111">Mean</text>
<text x="287.15" y="546.80" font-size="3.9" text-anchor="end" font-weight="bold" stroke="#000" stroke-width="0.1">0%</text>
<line x1="289.45" y1="545.40" x2="290.75" y2="545.40" stroke="#777" stroke-width="0.5"/>
<text x="287.15" y="525.72" font-size="3.9" text-anchor="end" font-weight="bold" stroke="#000" stroke-width="0.1">20%</text>
<line x1="289.45" y1="524.32" x2="290.75" y2="524.32" stroke="#777" stroke-width="0.5"/>
<text x="287.15" y="504.64" font-size="3.9" text-anchor="end" font-weight="bold" stroke="#000" stroke-width="0.1">40%</text>
<line x1="289.45" y1="503.24" x2="290.75" y2="503.24" stroke="#777" stroke-width="0.5"/>
<text x="287.15" y="483.56" font-size="3.9" text-anchor="end" font-weight="bold" stroke="#000" stroke-width="0.1">60%</text>
<line x1="289.45" y1="482.16" x2="290.75" y2="482.16" stroke="#777" stroke-width="0.5"/>
<text x="287.15" y="462.48" font-size="3.9" text-anchor="end" font-weight="bold" stroke="#000" stroke-width="0.1">80%</text>
<line x1="289.45" y1="461.08" x2="290.75" y2="461.08" stroke="#777" stroke-width="0.5"/>
<text x="287.15" y="441.40" font-size="3.9" text-anchor="end" font-weight="bold" stroke="#000" stroke-width="0.1">100%</text>
<line x1="289.45" y1="440.00" x2="290.75" y2="440.00" stroke="#777" stroke-width="0.5"/>
<line x1="290.75" y1="440.00" x2="290.75" y2="545.40" stroke="#999" stroke-width="0.6"/>
<line x1="290.75" y1="545.40" x2="520" y2="545.40" stroke="#777" stroke-width="0.7"/>
<rect x="307.50" y="440.00" width="23.2" height="105.40" fill="url(#gd)"/>
<rect x="365.00" y="495.44" width="23.2" height="49.96" fill="url(#gd)"/>
<path d="M376.60 495.44V484.48M375.60 484.48h2" stroke="#666" stroke-width="0.6" fill="none"/>
<rect x="421.75" y="503.66" width="23.2" height="41.74" fill="url(#gd)"/>
<path d="M433.35 503.66V491.96M432.35 491.96h2" stroke="#666" stroke-width="0.6" fill="none"/>
<rect x="478.75" y="524.21" width="23.2" height="21.19" fill="url(#gd)"/>
<path d="M490.35 524.21V515.68M489.35 515.68h2" stroke="#666" stroke-width="0.6" fill="none"/>
<text x="319.00" y="553.20" font-size="7.9" text-anchor="middle" textLength="25.30" lengthAdjust="spacingAndGlyphs" stroke="#000" stroke-width="0.12">Control</text>
<text x="377.20" y="553.20" font-size="7.9" text-anchor="middle" textLength="36.80" lengthAdjust="spacingAndGlyphs" stroke="#000" stroke-width="0.12">Rituximab</text>
<text x="435.20" y="553.20" font-size="7.9" text-anchor="middle" textLength="46.80" lengthAdjust="spacingAndGlyphs" stroke="#000" stroke-width="0.12">Milatuzumab</text>
<text x="490.50" y="553.20" font-size="7.9" text-anchor="middle" textLength="45.00" lengthAdjust="spacingAndGlyphs" stroke="#000" stroke-width="0.12">Combination</text>
<text x="478.70" y="446.90" font-size="7.4" text-anchor="start" textLength="18.00" lengthAdjust="spacingAndGlyphs" stroke="#000" stroke-width="0.15">N = 7</text>
<line x1="479.5" y1="511.3" x2="500" y2="511.3" stroke="#333" stroke-width="0.6"/>
<text x="490.50" y="511.20" font-size="8.5" text-anchor="middle" stroke="#000" stroke-width="0.25">*</text>
<text transform="translate(270.70 487.50) rotate(-90)" font-size="5.3" text-anchor="middle" fill="#222" textLength="67.50" lengthAdjust="spacingAndGlyphs">% Live cells (Ann-/PI- cells)</text>
<text transform="translate(277.00 487.50) rotate(-90)" font-size="5.3" text-anchor="middle" fill="#222" textLength="75.00" lengthAdjust="spacingAndGlyphs">Normalized to untreated control</text>
</g>
</svg>
</body>
</html>
